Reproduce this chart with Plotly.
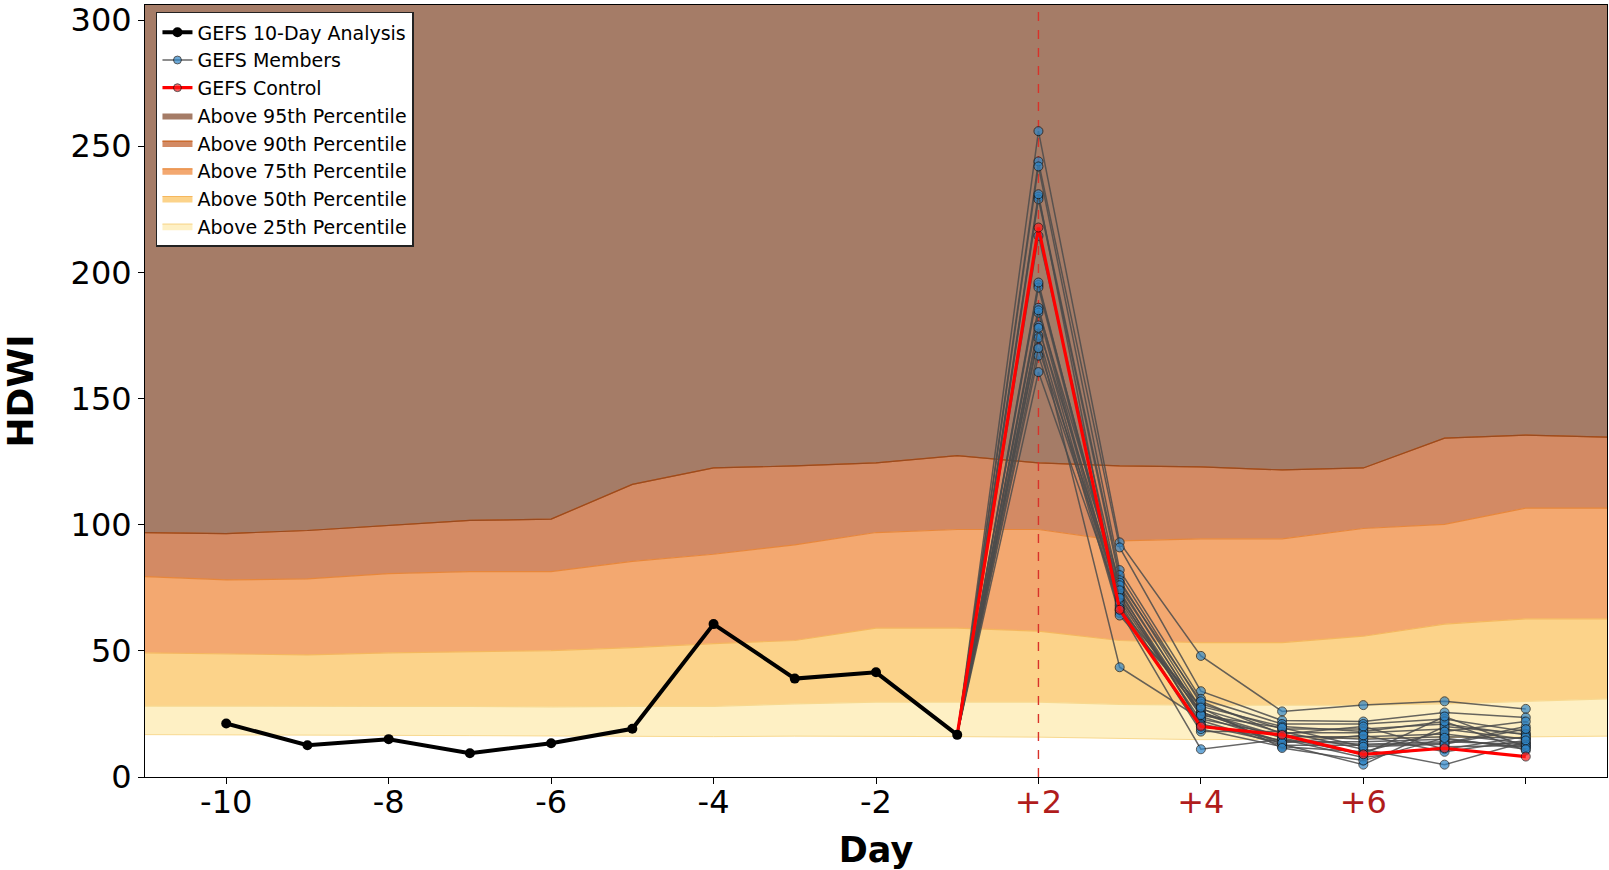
import plotly.graph_objects as go

# ---------------- data ----------------
# x positions (index) of the percentile climatology, spanning the full axis
pct_x = list(range(-1, 18))
p25 = [16.8, 16.8, 16.6, 16.5, 16.4, 16.2, 16.0, 16.0, 16.2, 16.2, 16.0, 15.8, 15.2, 14.8, 15.0, 15.3, 15.5, 15.8, 16.2]
p50 = [28.1, 28.0, 28.0, 28.0, 28.0, 27.8, 28.0, 28.0, 29.0, 29.7, 29.7, 29.7, 28.8, 28.5, 28.5, 28.5, 29.0, 30.0, 31.0]
p75 = [49.2, 48.8, 48.4, 49.2, 49.7, 50.1, 51.3, 52.9, 54.1, 59.0, 59.0, 57.8, 54.1, 53.3, 53.3, 55.8, 60.6, 62.7, 62.7]
p90 = [79.4, 78.1, 78.5, 80.6, 81.4, 81.4, 85.5, 88.3, 92.0, 96.9, 98.1, 98.1, 93.6, 94.4, 94.4, 98.5, 100.1, 106.6, 106.6]
p95 = [96.9, 96.5, 97.7, 99.7, 101.7, 102.2, 116.0, 122.5, 123.3, 124.5, 127.4, 124.5, 123.3, 122.9, 121.7, 122.5, 134.3, 135.5, 134.7]

# GEFS 10-day analysis, days -10 .. -1 (index 0..9)
analysis_x = list(range(0, 10))
analysis = [21.2, 12.6, 15.0, 9.4, 13.4, 19.1, 60.6, 39.0, 41.5, 16.7]

# forecasts start from the last analysis point (index 9) and cover +2 .. +8 (index 10..16)
fcst_x = list(range(9, 17))
control = [217.8, 66.3, 20.0, 16.7, 9.0, 11.4, 8.1]

members = [
    [256.0, 93.0, 48.0, 26.0, 28.5, 30.0, 27.0],
    [244.0, 91.0, 34.0, 22.4, 22.0, 25.6, 23.6],
    [242.0, 82.0, 31.0, 21.0, 21.0, 23.0, 18.0],
    [230.0, 80.0, 29.0, 19.0, 19.0, 21.0, 16.7],
    [229.0, 78.0, 27.0, 17.5, 17.5, 19.0, 15.0],
    [214.5, 75.0, 25.6, 16.0, 16.0, 17.0, 13.4],
    [195.0, 73.0, 24.0, 14.0, 14.0, 15.0, 11.8],
    [194.0, 70.0, 22.4, 12.6, 12.6, 13.4, 20.0],
    [186.0, 68.0, 18.0, 18.0, 11.0, 4.9, 14.0],
    [184.0, 66.0, 11.0, 15.0, 7.7, 12.0, 12.5],
    [179.0, 65.0, 26.0, 13.0, 4.9, 20.0, 17.0],
    [175.0, 64.0, 28.0, 20.0, 18.0, 22.0, 10.5],
    [174.0, 43.5, 23.0, 16.5, 15.0, 16.0, 15.5],
    [167.0, 72.0, 21.0, 14.5, 13.0, 14.0, 13.0],
    [160.5, 69.0, 19.0, 12.0, 10.0, 18.0, 22.0],
    [185.0, 77.0, 30.0, 17.0, 20.0, 11.0, 16.0],
    [178.0, 76.0, 25.0, 15.5, 9.0, 24.0, 12.0],
    [170.0, 74.0, 20.5, 13.5, 16.5, 10.0, 14.5],
    [196.0, 71.0, 24.5, 19.5, 12.0, 13.0, 19.0],
    [231.0, 67.0, 27.5, 11.5, 6.5, 15.5, 11.0],
]

tick_vals = [0, 2, 4, 6, 8, 10, 12, 14, 16]
tick_labels = ["-10", "-8", "-6", "-4", "-2", "+2", "+4", "+6", ""]
forecast_labels = {"+2", "+4", "+6"}
y_top = 306
ref_day_x = 10  # +2 forecast day

# ---------------- styles ----------------
c95, c90, c75, c50, c25 = "#a57c67", "#d38a64", "#f3a870", "#fcd38a", "#fef0c4"
l95, l90, l75, l50, l25 = "#9a4a1e", "#c8621f", "#e8873a", "#f5b75e", "#f8d990"
FONT = "DejaVu Sans"

fig = go.Figure()

fig.add_trace(go.Scatter(x=pct_x, y=p25, mode="lines", line=dict(color=l25, width=1),
                         showlegend=False, hoverinfo="skip"))
bands = [
    (p50, c25, l25, "Above 25th Percentile", 8),
    (p75, c50, l50, "Above 50th Percentile", 7),
    (p90, c75, l75, "Above 75th Percentile", 6),
    (p95, c90, l90, "Above 90th Percentile", 5),
]
for yv, fc, lc, name, rank in bands:
    fig.add_trace(go.Scatter(x=pct_x, y=yv, mode="lines", fill="tonexty", fillcolor=fc,
                             line=dict(color=lc, width=1.2), name=name, legendrank=rank))
fig.add_trace(go.Scatter(x=pct_x, y=[y_top + 20] * len(pct_x), mode="lines", fill="tonexty",
                         fillcolor=c95, line=dict(color=c95, width=0),
                         name="Above 95th Percentile", legendrank=4))
# re-draw 95th edge line on top of fill
fig.add_trace(go.Scatter(x=pct_x, y=p95, mode="lines", line=dict(color=l95, width=1.2),
                         showlegend=False, hoverinfo="skip"))

# dashed reference line at +2
fig.add_trace(go.Scatter(x=[ref_day_x, ref_day_x], y=[0, y_top], mode="lines",
                         line=dict(color="#d8322a", width=1.4, dash="dash"),
                         showlegend=False, hoverinfo="skip"))

for i, m in enumerate(members):
    fig.add_trace(go.Scatter(
        x=fcst_x, y=[analysis[-1]] + m, mode="lines+markers",
        line=dict(color="rgba(75,75,75,0.85)", width=1.5),
        marker=dict(color="#2f86c8", size=[0] + [9] * len(m),
                    line=dict(color="#111", width=1)),
        name="GEFS Members", legendgroup="members", showlegend=(i == 0), legendrank=2))

fig.add_trace(go.Scatter(x=fcst_x, y=[analysis[-1]] + control, mode="lines+markers",
                         line=dict(color="#ff0000", width=3.2),
                         marker=dict(color="#ff1a1a", size=[0] + [9] * len(control),
                                     line=dict(color="#111", width=1)),
                         name="GEFS Control", legendrank=3))

fig.add_trace(go.Scatter(x=analysis_x, y=analysis, mode="lines+markers",
                         line=dict(color="black", width=4),
                         marker=dict(color="black", size=10),
                         name="GEFS 10-Day Analysis", legendrank=1))

ticktext = [f'<span style="color:#b01c1c">{t}</span>' if t in forecast_labels else t
            for t in tick_labels]

fig.update_layout(
    width=1609, height=870,
    margin=dict(l=145, r=2, t=5, b=93),
    plot_bgcolor="white", paper_bgcolor="white",
    font=dict(family=FONT, color="black"),
    legend=dict(x=0.0075, y=0.991, xanchor="left", yanchor="top",
                bgcolor="white", bordercolor="#222", borderwidth=1.5,
                font=dict(size=19, family=FONT), tracegroupgap=0),
    xaxis=dict(range=[-1, 17], tickmode="array", tickvals=tick_vals, ticktext=ticktext,
               ticks="outside", ticklen=6, tickcolor="black", automargin=False,
               ticklabelstandoff=-9,
               showgrid=False, zeroline=False, showline=True, linecolor="black",
               linewidth=1, mirror=True, tickfont=dict(size=32),
               title=dict(text="<b>Day</b>", font=dict(size=35), standoff=18)),
    yaxis=dict(range=[0, y_top], tickvals=[0, 50, 100, 150, 200, 250, 300],
               ticks="outside", ticklen=6, tickcolor="black", automargin=False,
               showgrid=False, zeroline=False, showline=True, linecolor="black",
               linewidth=1, mirror=True, tickfont=dict(size=32),
               title=dict(text="<b>HDWI</b>", font=dict(size=36), standoff=30)),
)

fig.write_html("out.html", config={"displayModeBar": False},
               post_script="document.body.style.margin='0';document.body.style.overflow='hidden';")
